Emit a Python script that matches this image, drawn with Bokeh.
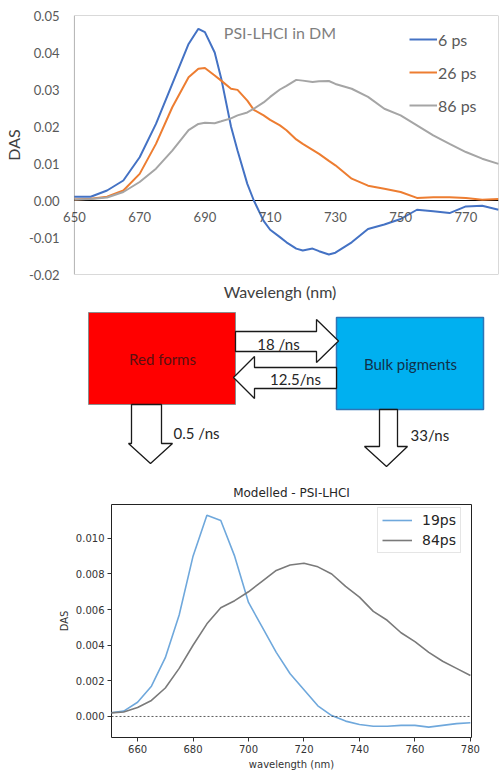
from bokeh.plotting import figure
from bokeh.layouts import column, row
from bokeh.models import (Range1d, FixedTicker, NumeralTickFormatter, Label, Legend,
                          LegendItem, Span, Title, BoxAnnotation)
from bokeh.core.properties import value
from bokeh.embed import file_html
from bokeh.resources import INLINE

# ---------------- data ----------------
top_wl = [650, 655, 660, 665, 670, 675, 680, 685, 688, 690, 693, 695, 698, 700, 703, 705,
          708, 710, 713, 715, 718, 720, 723, 725, 728, 730, 735, 740, 745, 750, 755, 760,
          765, 770, 775, 780]
das_6ps = [0.001, 0.001, 0.0027, 0.0054, 0.0117, 0.0207, 0.0315, 0.0423, 0.0464, 0.0455,
           0.040, 0.033, 0.020, 0.0135, 0.0045, 0.0, -0.0055, -0.0079, -0.0099, -0.0113,
           -0.013, -0.0135, -0.013, -0.0137, -0.0146, -0.0141, -0.0113, -0.0077, -0.0065,
           -0.005, -0.0025, -0.0029, -0.0034, -0.0016, -0.0014, -0.0025]
das_26ps = [0.0003, 0.0005, 0.001, 0.0027, 0.0072, 0.0153, 0.0252, 0.0333, 0.0356, 0.0358,
            0.0338, 0.0324, 0.0302, 0.0299, 0.027, 0.0245, 0.023, 0.0218, 0.0203, 0.019,
            0.0165, 0.0153, 0.0137, 0.0126, 0.0107, 0.0095, 0.0059, 0.004, 0.0032, 0.0023,
            0.0007, 0.0009, 0.0009, 0.0007, 0.0002, 0.0004]
das_86ps = [0.0003, 0.0004, 0.0008, 0.0023, 0.005, 0.0086, 0.0135, 0.019, 0.0207, 0.021,
            0.0209, 0.0214, 0.0222, 0.023, 0.0238, 0.0248, 0.0265, 0.028, 0.030, 0.031,
            0.0326, 0.0324, 0.032, 0.0322, 0.0323, 0.0315, 0.0302, 0.028, 0.0248, 0.023,
            0.0203, 0.0176, 0.0153, 0.0131, 0.0113, 0.0099]
top_series = ["6 ps", "26 ps", "86 ps"]
top_xticks = [650, 670, 690, 710, 730, 750, 770]
top_yticks = [-0.02, -0.01, 0.0, 0.01, 0.02, 0.03, 0.04, 0.05]
top_xlim = [650, 780]
top_ylim = [-0.02, 0.05]

mod_wl = [650, 655, 660, 665, 670, 675, 680, 685, 690, 695, 700, 705, 710, 715, 720, 725,
          730, 735, 740, 745, 750, 755, 760, 765, 770, 775, 780]
mod_19ps = [0.0002, 0.0003, 0.0008, 0.0017, 0.0033, 0.0057, 0.009, 0.0113, 0.011, 0.009,
            0.0064, 0.005, 0.0036, 0.0024, 0.0015, 0.0006, 0.00005, -0.00026, -0.00045,
            -0.00055, -0.00055, -0.0005, -0.0005, -0.0006, -0.0005, -0.0004, -0.00035]
mod_84ps = [0.0002, 0.00025, 0.0005, 0.0009, 0.0016, 0.0027, 0.004, 0.0052, 0.0061, 0.0065,
            0.007, 0.0076, 0.0082, 0.0085, 0.0086, 0.0084, 0.008, 0.0073, 0.0067, 0.0059,
            0.0054, 0.0047, 0.0042, 0.0036, 0.0031, 0.0027, 0.0023]
mod_series = ["19ps", "84ps"]
mod_xticks = [660, 680, 700, 720, 740, 760, 780]
mod_yticks = [0.0, 0.002, 0.004, 0.006, 0.008, 0.010]

box_names = ["Red forms", "Bulk pigments"]
rate_labels = ["18 /ns", "12.5/ns", "0.5 /ns", "33/ns"]

XL = "#595959"

# ---------------- top chart ----------------
# frame reaches a little left of 650 so the "650" tick label is not clipped;
# the visible plot border is drawn as a box at the real limits
p1 = figure(width=499, height=306, x_range=Range1d(646.04, 780), y_range=Range1d(*top_ylim),
            output_backend="svg", toolbar_location=None,
            min_border_left=60, min_border_right=1, min_border_top=15, min_border_bottom=32)
p1.xgrid.visible = False
p1.ygrid.visible = False
p1.outline_line_color = None
p1.background_fill_color = "white"
p1.add_layout(BoxAnnotation(left=top_xlim[0], right=top_xlim[1], bottom=top_ylim[0],
                            top=top_ylim[1], fill_alpha=0, line_color="black",
                            line_width=1))

ya = p1.yaxis[0]
ya.ticker = FixedTicker(ticks=top_yticks)
ya.formatter = NumeralTickFormatter(format="0.00")
ya.major_tick_out = 0
ya.major_tick_in = 0
ya.minor_tick_out = 0
ya.minor_tick_in = 0
ya.axis_line_color = None
ya.major_label_standoff = 2
ya.major_label_text_font = "Lato"
ya.major_label_text_font_size = "13px"
ya.major_label_text_color = XL
ya.axis_label = "DAS"
ya.axis_label_text_font = "Lato"
ya.axis_label_text_font_size = "16px"
ya.axis_label_text_font_style = "normal"
ya.axis_label_text_color = "#404040"
ya.axis_label_standoff = 3

# x axis drawn on the zero line (labels only)
xa = p1.xaxis[0]
xa.fixed_location = 0
xa.ticker = FixedTicker(ticks=top_xticks)
xa.major_tick_out = 0
xa.major_tick_in = 0
xa.minor_tick_out = 0
xa.minor_tick_in = 0
xa.axis_line_color = None
xa.major_label_text_font = "Lato"
xa.major_label_text_font_size = "13px"
xa.major_label_text_color = XL
xa.major_label_standoff = 11

# zero line between the plot limits
p1.line(top_xlim, [0, 0], line_color="black", line_width=1)

p1.add_layout(Title(text="Wavelengh (nm)", align="center", text_font="Lato",
                    text_font_size="16px", text_font_style="normal", text_color="#404040",
                    offset=6),
              "below")

cols_top = ["#4472C4", "#ED7D31", "#A5A5A5"]
r_top = []
for ys, c in zip([das_6ps, das_26ps, das_86ps], cols_top):
    r_top.append(p1.line(top_wl, ys, line_color=c, line_width=2))

p1.add_layout(Label(x=713, y=0.0455, text="PSI-LHCI in DM", text_align="center",
                    text_baseline="middle", text_font="Lato", text_font_size="16px",
                    text_color="#7F7F7F"))

leg1 = Legend(items=[LegendItem(label=n, renderers=[r]) for n, r in zip(top_series, r_top)],
              location=(348, 159), padding=0, margin=0, spacing=13,
              glyph_width=28, glyph_height=20, label_height=20, label_standoff=1,
              label_text_font="Lato", label_text_font_size="16px", label_text_color=XL,
              border_line_color=None, background_fill_alpha=0)
p1.add_layout(leg1)

# ---------------- diagram ----------------
p2 = figure(width=499, height=169, x_range=Range1d(0, 499), y_range=Range1d(475, 306),
            output_backend="svg", toolbar_location=None, x_axis_type=None, y_axis_type=None,
            min_border=0)
p2.outline_line_color = None
p2.xgrid.visible = False
p2.ygrid.visible = False

p2.quad(left=[88], right=[235], top=[312], bottom=[404], fill_color="#FF0000",
        line_color="#8c8c8c", line_width=1)
p2.quad(left=[336], right=[483], top=[317], bottom=[409], fill_color="#00B0F0",
        line_color="#2E75B6", line_width=1.5)

arrow_xs = [
    [235, 316, 316, 338, 316, 316, 235],
    [336, 254, 254, 233, 254, 254, 336],
    [131, 161, 161, 172, 150, 128, 131],
    [379, 397, 397, 407, 386, 364, 379],
]
arrow_ys = [
    [331, 331, 319, 340.5, 362, 351, 351],
    [367, 367, 356, 377, 398, 388, 388],
    [404, 404, 443, 443, 463, 443, 443],
    [409, 409, 446, 446, 466, 446, 446],
]
p2.patches(arrow_xs, arrow_ys, fill_color="white", line_color="#1a1a1a", line_width=1.3)

p2.text(x=[162, 410], y=[358, 363], text=box_names, text_align="center",
        text_baseline="middle", text_font=value("Lato"), text_font_size="15px",
        text_color=["#5a1010", "#10304a"])
p2.text(x=[278, 295, 173, 410], y=[343, 378, 432, 434], text=rate_labels,
        text_align=["center", "center", "left", "left"], text_baseline="middle",
        text_font=value("Lato"), text_font_size="15px", text_color="#262626")

# ---------------- bottom chart ----------------
p3 = figure(width=499, height=298, x_range=Range1d(650.6, 780.4),
            y_range=Range1d(-0.00118, 0.0119),
            output_backend="svg", toolbar_location=None,
            min_border_left=111, min_border_right=28, min_border_top=29, min_border_bottom=36)
p3.title.text = "Modelled - PSI-LHCI"
p3.title.align = "center"
p3.title.text_font = "DejaVu Sans"
p3.title.text_font_size = "12px"
p3.title.text_font_style = "normal"
p3.title.text_color = "#262626"
p3.xgrid.visible = False
p3.ygrid.visible = False
p3.outline_line_color = "#222222"
p3.outline_line_width = 1

for ax in (p3.xaxis[0], p3.yaxis[0]):
    ax.axis_line_color = None
    ax.major_tick_out = 4
    ax.major_tick_in = 0
    ax.minor_tick_out = 0
    ax.minor_tick_in = 0
    ax.major_tick_line_color = "#333333"
    ax.major_label_text_font = "DejaVu Sans"
    ax.major_label_text_font_size = "10px"
    ax.major_label_text_color = "#333333"
    ax.major_label_standoff = 3
    ax.axis_label_text_font = "DejaVu Sans"
    ax.axis_label_text_font_size = "10px"
    ax.axis_label_text_font_style = "normal"
    ax.axis_label_text_color = "#333333"
    ax.axis_label_standoff = 3

p3.xaxis[0].ticker = FixedTicker(ticks=mod_xticks)
p3.xaxis[0].axis_label = "wavelength (nm)"
p3.yaxis[0].ticker = FixedTicker(ticks=mod_yticks)
p3.yaxis[0].formatter = NumeralTickFormatter(format="0.000")
p3.yaxis[0].axis_label = "DAS"

p3.add_layout(Span(location=0, dimension="width", line_color="#333333", line_width=0.8,
                   line_dash="2 2"))
cols_mod = ["#6FA8DC", "#7A7A7A"]
r_mod = []
for ys, c in zip([mod_19ps, mod_84ps], cols_mod):
    r_mod.append(p3.line(mod_wl, ys, line_color=c, line_width=1.6))

leg3 = Legend(items=[LegendItem(label=n, renderers=[r]) for n, r in zip(mod_series, r_mod)],
              location=(266, 184), padding=4, margin=0, spacing=4,
              glyph_width=30, glyph_height=16, label_height=16, label_standoff=10,
              label_text_font="DejaVu Sans", label_text_font_size="14px",
              label_text_color="#262626",
              border_line_color="#cccccc", border_line_width=1,
              background_fill_color="white", background_fill_alpha=0.9)
p3.add_layout(leg3)

layout = column(row(p1), row(p2), row(p3), spacing=0)
open("out.html", "w").write(file_html(layout, INLINE))
